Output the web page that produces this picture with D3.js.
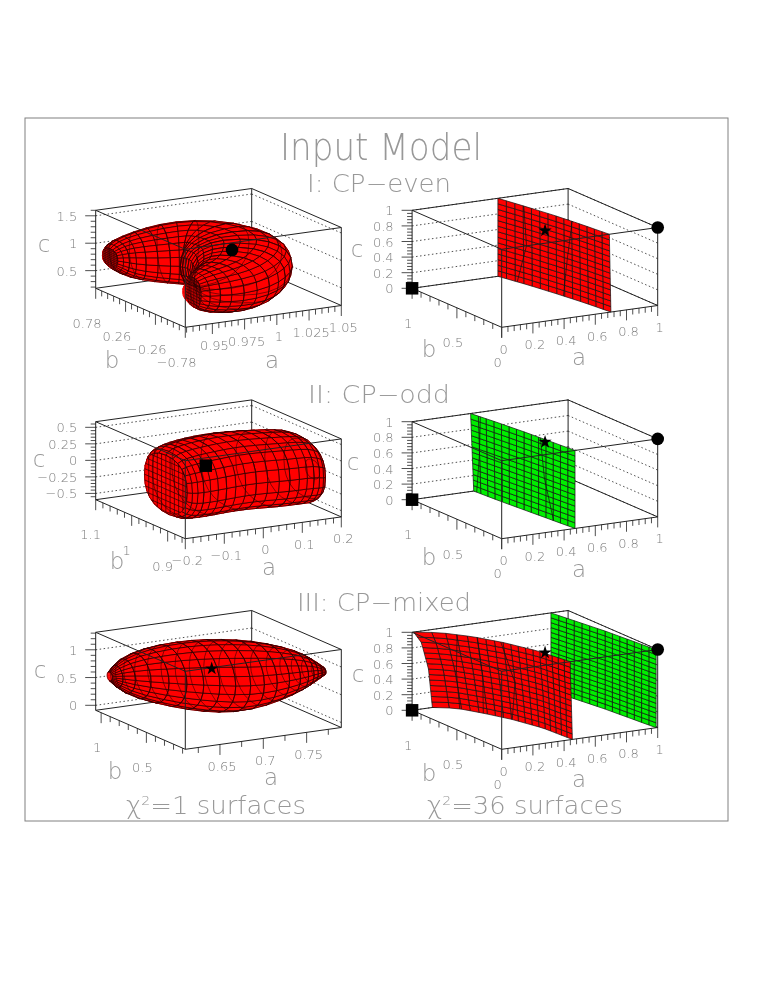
<!DOCTYPE html>
<html>
<head>
<meta charset="utf-8">
<title>Input Model</title>
<script src="https://cdn.jsdelivr.net/npm/d3@7"></script>
<style>
  body { margin: 0; background: #fff; }
  text { font-family: "DejaVu Sans", sans-serif; font-weight: 200; fill: #7c7c7c; filter: grayscale(1); }
  text.big { fill: #989898; }
</style>
</head>
<body>
<div id="content"></div>
<script>
// surface I left: bean, one entry per ring along its spine
var evenA = [0.931, 0.935, 0.946, 0.968, 0.99, 1.002, 1.002, 0.99, 0.975, 0.956, 0.942, 0.935];
var evenB = [0.655, 0.655, 0.655, 0.562, 0.437, 0.187, -0.125, -0.359, -0.562, -0.64, -0.655, -0.64];
var evenC = [0.775, 0.775, 0.747, 0.775, 0.804, 0.804, 0.79, 0.747, 0.718, 0.718, 0.718, 0.718];
var evenWidth = [0.03, 0.1, 0.16, 0.28, 0.32, 0.34, 0.3, 0.27, 0.22, 0.17, 0.11, 0.04];
var evenHeight = [0.04, 0.2, 0.35, 0.46, 0.512, 0.512, 0.512, 0.512, 0.483, 0.412, 0.33, 0.09];

// surface II left
var oddA = [-0.188, -0.18, -0.144, -0.08, 0, 0.1, 0.16, 0.188, 0.2];
var oddB = [0.931, 0.931, 0.936, 0.946, 0.951, 0.956, 0.946, 0.936, 0.931];
var oddC = [0.03, 0.03, 0.02, 0.02, 0.03, -0.03, -0.02, -0.06, -0.06];
var oddWidth = [0.1, 0.26, 0.29, 0.31, 0.31, 0.31, 0.27, 0.26, 0.08];
var oddHeight = [0.16, 0.47, 0.53, 0.54, 0.54, 0.54, 0.53, 0.47, 0.14];

// surface III left
var mixedA = [0.62, 0.632, 0.66, 0.687, 0.714, 0.739, 0.765, 0.778, 0.79];
var mixedB = [1.0, 0.949, 0.832, 0.714, 0.598, 0.488, 0.378, 0.319, 0.268];
var mixedC = [0.54, 0.558, 0.591, 0.608, 0.629, 0.70, 0.78, 0.797, 0.788];
var mixedWidth = [0.03, 0.12, 0.22, 0.25, 0.27, 0.24, 0.18, 0.1, 0.03];
var mixedHeight = [0.08, 0.34, 0.52, 0.62, 0.64, 0.56, 0.38, 0.24, 0.07];

// chi2=36 sheets: a as a function of b (columns) and c (rows)
var sheetEvenB = [0, 0.25, 0.5, 0.75, 1];
var sheetEvenC = [0, 1];
var sheetEvenA = [[0.70, 0.675, 0.64, 0.6, 0.55], [0.69, 0.665, 0.635, 0.595, 0.55]];
var sheetOddB = [0, 0.25, 0.5, 0.75, 1];
var sheetOddC = [0, 1];
var sheetOddA = [[0.47, 0.45, 0.43, 0.41, 0.395], [0.47, 0.45, 0.43, 0.405, 0.375]];
var sheetMixedB = [0, 0.3, 0.55, 0.75, 0.92, 1];
var sheetMixedC = [0, 0.5, 0.85, 1];
var sheetMixedA = [
  [0.453, 0.437, 0.384, 0.313, 0.239, 0.13],
  [0.446, 0.42, 0.36, 0.28, 0.195, 0.105],
  [0.44, 0.405, 0.34, 0.255, 0.15, 0.06],
  [0.44, 0.40, 0.33, 0.245, 0.13, 0.01]
];
var sheetGreenB = [0, 0.5, 1];
var sheetGreenC = [0, 1];
var sheetGreenA = [[0.99, 0.95, 0.89], [0.99, 0.95, 0.89]];

// thin seams crossing the sheets: b at c = 0, 0.5, 1
var seamC = [0, 0.5, 1];
var seamsEven = [[0.84, 0.76, 0.78], [0.44, 0.40, 0.35]];
var seamsOdd = [[0.97, 0.93, 0.91], [0.21, 0.30, 0.34]];
var seamsMixed = [[0.9, 0.88, 0.83], [0.75, 0.72, 0.72], [0.55, 0.5, 0.57]];

// markers: a, b, c
var circleEven = [1, 0, 1];
var squareOdd = [-0.01, 1, 0];
var squareAxis = [0, 1, 0];
var starMixed = [0.707, 0.707, 0.7];
var starAxis = [0.68, 0.7, 0.7];

// tick labels shared by the right column
var ticks01 = [0, 0.2, 0.4, 0.6, 0.8, 1];
var ticksB01 = [0, 0.5, 1];

var red = "#ff0000";
var green = "#00ee00";

var aVec = [156, -21.8];
var bVec = [-89.6, -39];
var cVec = [0, -78];

var panels = [
  { ox: 185.3, oy: 327.3, aDom: [0.929, 1.05], bDom: [-0.78, 0.78], cDom: [0.178, 1.6],
    aTicks: [0.95, 0.975, 1, 1.025, 1.05], bTicks: [-0.78, -0.26, 0.26, 0.78], cTicks: [0.5, 1, 1.5],
    aDiv: 5, bDiv: 5, cDiv: 5, bDx: -8.7,
    cPos: [44, 245], bPos: [112, 361], aPos: [272, 361],
    volume: { a: evenA, b: evenB, c: evenC, w: evenWidth, h: evenHeight, e: 0.85, rings: 28, through: 2, capStart: 2, capEnd: 2 },
    circle: circleEven },
  { ox: 501.7, oy: 327.3, aDom: [0, 1], bDom: [0, 1], cDom: [0, 1],
    aTicks: ticks01, bTicks: ticksB01, cTicks: ticks01, aDiv: 5, bDiv: 5, cDiv: 5, bDx: -4,
    cPos: [357, 250], bPos: [429, 350], aPos: [579, 358],
    sheets: [{ b: sheetEvenB, c: sheetEvenC, a: sheetEvenA, fill: red, nb: 14, nc: 14, seams: seamsEven }],
    circle: circleEven, square: squareAxis, star: starAxis },
  { ox: 185.3, oy: 538.7, aDom: [-0.2, 0.2], bDom: [0.851, 1.1], cDom: [-0.595, 0.585],
    aTicks: [-0.2, -0.1, 0, 0.1, 0.2], bTicks: [0.9, 1, 1.1], cTicks: [-0.5, -0.25, 0, 0.25, 0.5],
    aDiv: 5, bDiv: 5, cDiv: 5, bDx: -5,
    cPos: [39, 460], bPos: [117, 562], aPos: [269, 568],
    volume: { a: oddA, b: oddB, c: oddC, w: oddWidth, h: oddHeight, e: 0.85, rings: 24, through: 3, section: [0, 1], capStart: 3, capEnd: 0 },
    square: squareOdd },
  { ox: 501.7, oy: 538.7, aDom: [0, 1], bDom: [0, 1], cDom: [0, 1],
    aTicks: ticks01, bTicks: ticksB01, cTicks: ticks01, aDiv: 5, bDiv: 5, cDiv: 5, bDx: -4,
    cPos: [353, 463], bPos: [429, 558], aPos: [579, 570],
    sheets: [{ b: sheetOddB, c: sheetOddC, a: sheetOddA, fill: green, nb: 14, nc: 14, seams: seamsOdd }],
    circle: circleEven, square: squareAxis, star: starAxis },
  { ox: 185.3, oy: 749.3, aDom: [0.61, 0.79], bDom: [0.07, 1.06], cDom: [-0.09, 1.315],
    aTicks: [0.65, 0.7, 0.75], bTicks: [0.5, 1], cTicks: [0, 0.5, 1],
    aDiv: 2, bDiv: 5, cDiv: 5, bDx: -4,
    cPos: [40, 671], bPos: [115, 772], aPos: [271, 778],
    volume: { a: mixedA, b: mixedB, c: mixedC, w: mixedWidth, h: mixedHeight, e: 1, rings: 18, through: 1, section: [0, 1], capStart: 0, capEnd: 0 },
    star: starMixed },
  { ox: 501.7, oy: 749.3, aDom: [0, 1], bDom: [0, 1], cDom: [0, 1],
    aTicks: ticks01, bTicks: ticksB01, cTicks: ticks01, aDiv: 5, bDiv: 5, cDiv: 5, bDx: -4,
    cPos: [358, 675], bPos: [429, 774], aPos: [579, 780],
    sheets: [
      { b: sheetGreenB, c: sheetGreenC, a: sheetGreenA, fill: green, nb: 14, nc: 16, seams: [] },
      { b: sheetMixedB, c: sheetMixedC, a: sheetMixedA, fill: red, nb: 18, nc: 14, seams: seamsMixed }
    ],
    circle: circleEven, square: squareAxis, star: starAxis }
];

var svg = d3.select("#content").append("svg")
  .attr("width", 774)
  .attr("height", 1001);

svg.append("rect")
  .attr("x", 25).attr("y", 118)
  .attr("width", 703).attr("height", 703)
  .attr("fill", "none").attr("stroke", "#808080").attr("stroke-width", 1);

function title(txt, x0, x1, base, size) {
  return svg.append("text")
    .attr("class", "big")
    .attr("x", x0).attr("y", base)
    .attr("font-size", size)
    .attr("textLength", x1 - x0)
    .attr("lengthAdjust", "spacingAndGlyphs")
    .text(txt);
}
title("Input Model", 280, 482, 160, 38);
title("I: CP\u2212even", 307, 451, 192, 24);
title("II: CP\u2212odd", 308, 450, 403, 24);
title("III: CP\u2212mixed", 297, 471, 611, 24);

function chiTitle(x0, x1, rest) {
  var t = svg.append("text").attr("class", "big").attr("x", x0).attr("y", 814).attr("font-size", 24)
    .attr("textLength", x1 - x0).attr("lengthAdjust", "spacingAndGlyphs");
  t.append("tspan").text("\u03c7");
  t.append("tspan").attr("font-size", 13).attr("dy", -9).text("2");
  t.append("tspan").attr("dy", 9).text(rest);
}
chiTitle(126, 306, "=1 surfaces");
chiTitle(427, 623, "=36 surfaces");

// tick values including the minors, kept inside the axis range
function allTicks(major, div, dom) {
  var step = (major[1] - major[0]) / div;
  var out = [];
  var k0 = Math.ceil((dom[0] - major[0]) / step - 1e-6);
  var k1 = Math.floor((dom[1] - major[0]) / step + 1e-6);
  for (var k = k0; k <= k1; k++) {
    var v = major[0] + k * step;
    out.push({ v: v, major: k % div == 0 });
  }
  return out;
}

function label(v) {
  return String(v).replace("-", "\u2212");
}

function drawPanel(p) {
  var g = svg.append("g");
  var sa = d3.scaleLinear().domain(p.aDom).range([0, 1]);
  var sb = d3.scaleLinear().domain(p.bDom).range([0, 1]);
  var sc = d3.scaleLinear().domain(p.cDom).range([0, 1]);

  function norm(u, v, w) {
    return [p.ox + aVec[0] * u + bVec[0] * v, p.oy + aVec[1] * u + bVec[1] * v + cVec[1] * w];
  }
  function project(a, b, c) {
    return norm(sa(a), sb(b), sc(c));
  }
  function seg(sel, p0, p1) {
    return sel.append("line")
      .attr("x1", p0[0]).attr("y1", p0[1])
      .attr("x2", p1[0]).attr("y2", p1[1])
      .attr("stroke", "#222").attr("stroke-width", 1);
  }

  // back of the box
  seg(g, norm(0, 1, 0), norm(1, 1, 0));
  seg(g, norm(1, 1, 0), norm(1, 0, 0));
  seg(g, norm(0, 1, 1), norm(1, 1, 1));
  seg(g, norm(1, 1, 1), norm(1, 0, 1));
  seg(g, norm(1, 1, 0), norm(1, 1, 1));
  seg(g, norm(0, 1, 0), norm(0, 1, 1));
  seg(g, norm(1, 0, 0), norm(1, 0, 1));

  p.cTicks.forEach(function(t) {
    var w = sc(t);
    seg(g, norm(0, 1, w), norm(1, 1, w)).attr("stroke-dasharray", "1.5,2.5").attr("stroke-width", 0.8);
    seg(g, norm(1, 1, w), norm(1, 0, w)).attr("stroke-dasharray", "1.5,2.5").attr("stroke-width", 0.8);
  });

  if (p.volume) drawVolume(g, p.volume, sa, sb, sc, norm);
  if (p.sheets) p.sheets.forEach(function(s) { drawSheet(g, s, project); });

  // front of the box
  seg(g, norm(0, 1, 1), norm(0, 0, 1));
  seg(g, norm(0, 0, 1), norm(1, 0, 1));
  seg(g, norm(0, 0, 0), norm(0, 0, 1));
  seg(g, norm(0, 1, 0), norm(0, 0, 0));
  seg(g, norm(0, 0, 0), norm(1, 0, 0));

  // ticks hang straight down on a and b, point left on c
  allTicks(p.aTicks, p.aDiv, p.aDom).forEach(function(t) {
    var q = norm(sa(t.v), 0, 0);
    seg(g, q, [q[0], q[1] + (t.major ? 10.5 : 5.5)]).attr("stroke-width", 0.8);
  });
  allTicks(p.bTicks, p.bDiv, p.bDom).forEach(function(t) {
    var q = norm(0, sb(t.v), 0);
    seg(g, q, [q[0], q[1] + (t.major ? 10.5 : 5.5)]).attr("stroke-width", 0.8);
  });
  allTicks(p.cTicks, p.cDiv, p.cDom).forEach(function(t) {
    var q = norm(0, 1, sc(t.v));
    seg(g, q, [q[0] - (t.major ? 10.5 : 5), q[1]]).attr("stroke-width", 0.8);
  });

  p.aTicks.forEach(function(v) {
    var q = norm(sa(v), 0, 0);
    g.append("text").attr("x", q[0] + 2).attr("y", q[1] + 26.5)
      .attr("text-anchor", "middle").attr("font-size", 13).text(label(v));
  });
  p.bTicks.forEach(function(v) {
    var q = norm(0, sb(v), 0);
    g.append("text").attr("x", q[0] + p.bDx).attr("y", q[1] + 39.5)
      .attr("text-anchor", "middle").attr("font-size", 13).text(label(v));
  });
  p.cTicks.forEach(function(v) {
    var q = norm(0, 1, sc(v));
    g.append("text").attr("x", q[0] - 18.5).attr("y", q[1] + 5)
      .attr("text-anchor", "end").attr("font-size", 13).text(label(v));
  });

  var names = [["c", p.cPos], ["b", p.bPos], ["a", p.aPos]];
  names.forEach(function(n) {
    g.append("text").attr("class", "big").attr("x", n[1][0]).attr("y", n[1][1] + 7)
      .attr("text-anchor", "middle").attr("font-size", 23).text(n[0]);
  });

  function marker(type, size, v) {
    if (!v) return;
    var q = project(v[0], v[1], v[2]);
    g.append("path")
      .attr("d", d3.symbol().type(type).size(size)())
      .attr("transform", "translate(" + q[0] + "," + q[1] + ")")
      .attr("fill", "#000");
  }
  marker(d3.symbolCircle, 125, p.circle);
  marker(d3.symbolSquare, 156, p.square);
  marker(d3.symbolStar, 55, p.star);
}

function quadPath(q) {
  return "M" + q.map(function(pt) { return pt[0].toFixed(2) + "," + pt[1].toFixed(2); }).join("L") + "Z";
}

function drawVolume(g, vol, sa, sb, sc, norm) {
  var ia = d3.interpolateBasis(vol.a), ib = d3.interpolateBasis(vol.b), ic = d3.interpolateBasis(vol.c);
  var iw = d3.interpolateBasis(vol.w), ih = d3.interpolateBasis(vol.h);
  var nSeg = 24;
  var ep = vol.e;
  var rings = [];
  var frames = [];
  for (var i = 0; i <= vol.rings; i++) {
    var t = i / vol.rings;
    var d = 0.004;
    var t0 = Math.max(0, t - d), t1 = Math.min(1, t + d);
    var du = sa(ia(t1)) - sa(ia(t0)), dv = sb(ib(t1)) - sb(ib(t0));
    var len = Math.sqrt(du * du + dv * dv) || 1;
    // rings either follow the spine or keep one fixed direction
    var nu = vol.section ? vol.section[0] : -dv / len;
    var nv = vol.section ? vol.section[1] : du / len;
    frames.push({ t: t, nu: nu, nv: nv });
    var ring = [];
    for (var j = 0; j < nSeg; j++) {
      var th = 2 * Math.PI * j / nSeg;
      var cs = Math.cos(th), sn = Math.sin(th);
      var cx = (cs < 0 ? -1 : 1) * Math.pow(Math.abs(cs), ep);
      var cy = (sn < 0 ? -1 : 1) * Math.pow(Math.abs(sn), ep);
      var u = sa(ia(t)) + nu * iw(t) * cx;
      var v = sb(ib(t)) + nv * iw(t) * cx;
      var w = sc(ic(t) + ih(t) * cy);
      var s = norm(u, v, w);
      ring.push({ x: s[0], y: s[1], depth: 0.574 * u + v - 0.656 * w });
    }
    rings.push(ring);
  }

  var quads = [];
  var frontSign = null;
  for (i = 0; i < vol.rings; i++) {
    for (j = 0; j < nSeg; j++) {
      var j2 = (j + 1) % nSeg;
      var pts = [rings[i][j], rings[i + 1][j], rings[i + 1][j2], rings[i][j2]];
      var q = pts.map(function(r) { return [r.x, r.y]; });
      quads.push({
        q: q,
        area: d3.polygonArea(q),
        depth: d3.mean(pts, function(r) { return r.depth; }),
        top: i == Math.floor(vol.rings / 2) && j == nSeg / 4,
        cap: i < vol.capStart || i >= vol.rings - vol.capEnd
      });
    }
  }
  quads.forEach(function(q) { if (q.top) frontSign = q.area > 0 ? 1 : -1; });

  var surface = g.append("g");
  surface.selectAll(".base").data(quads).enter().append("path")
    .attr("class", "base")
    .attr("d", function(d) { return quadPath(d.q); })
    .attr("fill", red).attr("stroke", red).attr("stroke-width", 0.5);

  var front = quads.filter(function(d) { return d.area * frontSign > 0; })
    .sort(function(x, y) { return y.depth - x.depth; });
  surface.selectAll(".cell").data(front).enter().append("path")
    .attr("class", "cell")
    .attr("d", function(d) { return quadPath(d.q); })
    .attr("fill", red)
    .attr("stroke", function(d) { return d.cap ? red : "#200"; })
    .attr("stroke-width", 0.7);

  // the mesh shows through in the original
  var line = d3.line().x(function(d) { return d.x; }).y(function(d) { return d.y; }).curve(d3.curveLinearClosed);
  var shown = rings.filter(function(r, k) {
    return k % vol.through == 0 && k >= vol.capStart && k <= vol.rings - vol.capEnd;
  });
  surface.selectAll(".ring").data(shown).enter().append("path")
    .attr("class", "ring")
    .attr("d", line)
    .attr("fill", "none").attr("stroke", "#300").attr("stroke-width", 0.7).attr("stroke-opacity", 0.85);

  // flat ends get a plain b,c grid instead of a bull's eye
  function capGrid(idx) {
    var f = frames[idx];
    var cw = iw(f.t), ch = ih(f.t), cu = sa(ia(f.t)), cv = sb(ib(f.t)), cc = ic(f.t);
    var marks = d3.range(-0.8, 0.81, 0.2);
    var capLine = d3.line();
    function point(s, r) {
      return norm(cu + f.nu * cw * s, cv + f.nv * cw * s, sc(cc + ch * r));
    }
    function limit(x) {
      return Math.pow(Math.max(0, 1 - Math.pow(Math.abs(x), 2 / ep)), ep / 2);
    }
    marks.forEach(function(m) {
      var lim = limit(m);
      var across = d3.range(-1, 1.01, 0.2).map(function(k) { return point(m, k * lim); });
      var along = d3.range(-1, 1.01, 0.2).map(function(k) { return point(k * lim, m); });
      [across, along].forEach(function(pts) {
        surface.append("path").attr("d", capLine(pts))
          .attr("fill", "none").attr("stroke", "#200").attr("stroke-width", 0.7);
      });
    });
  }
  if (vol.capStart > 0) capGrid(vol.capStart);
  if (vol.capEnd > 0) capGrid(vol.rings - vol.capEnd);
}

function drawSheet(g, s, project) {
  function aAt(b, c) {
    var rowVals = s.a.map(function(row) {
      return d3.scaleLinear().domain(s.b).range(row)(b);
    });
    return d3.scaleLinear().domain(s.c).range(rowVals)(c);
  }
  var bScale = d3.scaleLinear().domain([0, s.nb]).range([d3.min(s.b), d3.max(s.b)]);
  var cScale = d3.scaleLinear().domain([0, s.nc]).range([d3.min(s.c), d3.max(s.c)]);
  var cells = [];
  d3.range(s.nb).forEach(function(i) {
    d3.range(s.nc).forEach(function(j) {
      var b0 = bScale(i), b1 = bScale(i + 1), c0 = cScale(j), c1 = cScale(j + 1);
      cells.push([
        project(aAt(b0, c0), b0, c0),
        project(aAt(b1, c0), b1, c0),
        project(aAt(b1, c1), b1, c1),
        project(aAt(b0, c1), b0, c1)
      ]);
    });
  });
  var sheet = g.append("g");
  sheet.selectAll("path").data(cells).enter().append("path")
    .attr("d", quadPath)
    .attr("fill", s.fill).attr("stroke", "#111").attr("stroke-width", 0.7);

  var line = d3.line();
  s.seams.forEach(function(sm) {
    var pts = sm.map(function(b, k) { return project(aAt(b, seamC[k]), b, seamC[k]); });
    sheet.append("path").attr("d", line(pts))
      .attr("fill", "none").attr("stroke", "#111").attr("stroke-width", 0.7);
  });
}

panels.forEach(drawPanel);
</script>
</body>
</html>
